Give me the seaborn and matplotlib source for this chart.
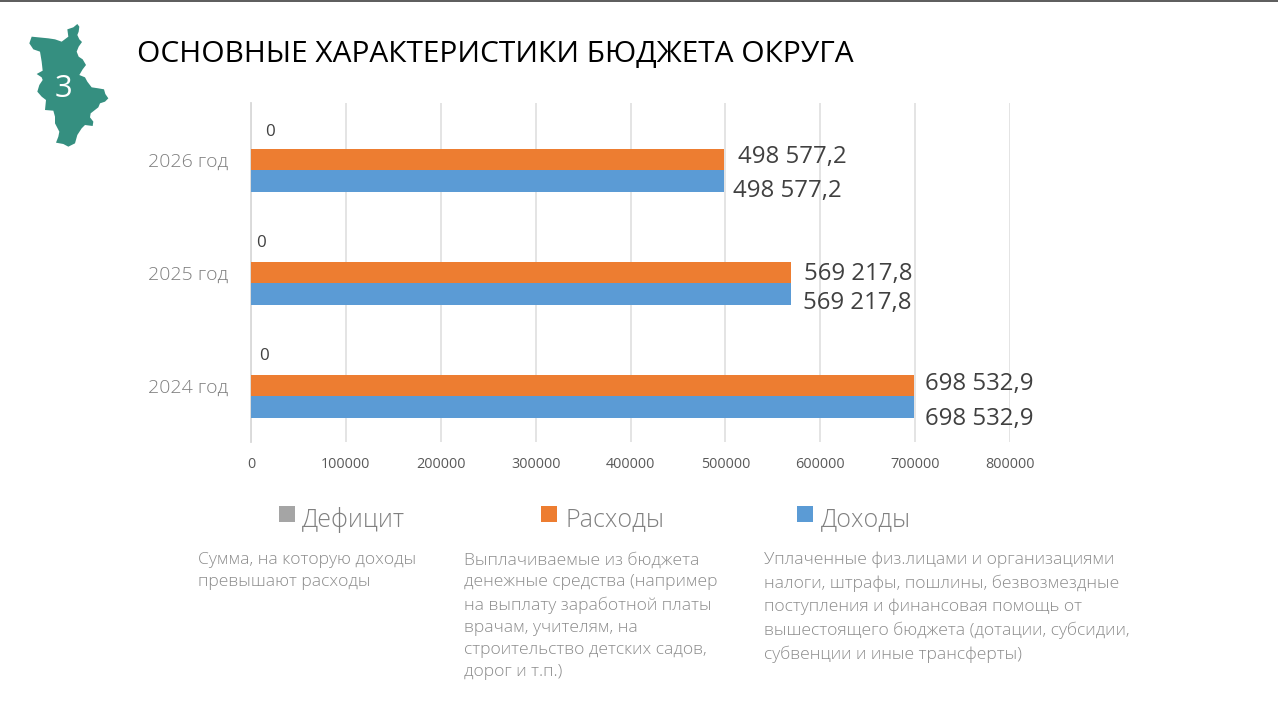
import pandas as pd
import seaborn as sns
import matplotlib.pyplot as plt
from matplotlib.patches import Polygon, Rectangle

W, H = 1278, 720

# ---- chart data ----
years = ['2026 год', '2025 год', '2024 год']
deficit = [0, 0, 0]
expenses = [498577.2, 569217.8, 698532.9]
income = [498577.2, 569217.8, 698532.9]
expense_labels = ['498 577,2', '569 217,8', '698 532,9']
income_labels = ['498 577,2', '569 217,8', '698 532,9']
series = ['Дефицит', 'Расходы', 'Доходы']
colors = ['#a5a5a5', '#ed7d31', '#5b9bd5']

title = 'ОСНОВНЫЕ ХАРАКТЕРИСТИКИ БЮДЖЕТА ОКРУГА'
notes = [
    'Сумма, на которую доходы\nпревышают расходы',
    'Выплачиваемые из бюджета\nденежные средства (например\nна выплату заработной платы\nврачам, учителям, на\nстроительство детских садов,\nдорог и т.п.)',
    'Уплаченные физ.лицами и организациями\nналоги, штрафы, пошлины, безвозмездные\nпоступления и финансовая помощь от\nвышестоящего бюджета (дотации, субсидии,\nсубвенции и иные трансферты)',
]

# outline of the region icon, traced at 3x of the slide
region = [(232, 72), (238, 80), (236, 95), (232, 105), (238, 118), (246, 126), (236, 140), (230, 155),
          (236, 170), (248, 178), (258, 195), (248, 208), (238, 225), (255, 232), (262, 245), (275, 262),
          (295, 265), (312, 268), (316, 282), (325, 295), (315, 305), (300, 310), (295, 322), (272, 340),
          (270, 352), (280, 365), (278, 378), (255, 375), (245, 385), (232, 405), (225, 430), (205, 440),
          (190, 432), (168, 428), (175, 410), (178, 395), (165, 370), (165, 350), (160, 332), (135, 330),
          (138, 300), (125, 290), (112, 275), (118, 255), (128, 240), (125, 232), (110, 222), (128, 212),
          (125, 185), (120, 155), (100, 148), (88, 130), (95, 110), (115, 112), (145, 115), (165, 118),
          (185, 125), (205, 110), (202, 88), (220, 82)]

df = pd.DataFrame({'year': years * 3,
                   'series': [s for s in series for _ in years],
                   'value': deficit + expenses + income})

sns.set_theme(style='white')
plt.rcParams['font.family'] = ['Open Sans', 'DejaVu Sans']

fig = plt.figure(figsize=(W / 100, H / 100), dpi=100, facecolor='white')


def px(x, y):
    return x / W, 1 - y / H


def put(x, y, s, size, color, **kw):
    kw.setdefault('va', 'center')
    fig.text(*px(x, y), s, fontsize=size * 0.72, color=color, **kw)


ax = fig.add_axes([251 / W, 1 - 442 / H, (1010 - 251) / W, 339 / H])
sns.barplot(data=df, y='year', x='value', hue='series', order=years, hue_order=series,
            palette=colors, width=0.584, saturation=1, legend=False, ax=ax, zorder=3,
            linewidth=0)
ax.set_xlim(0, 800000)
ax.set_ylim(2.5, -0.5)
ax.set_xticks(range(0, 800001, 100000))
ax.set_xticklabels([str(v) for v in range(0, 800001, 100000)], fontsize=10.4, color='#595959')
ax.tick_params(axis='x', length=0, pad=11)
ax.tick_params(axis='y', length=0, pad=16.5)
ax.set_yticks(range(3))
ax.set_yticklabels(years, fontsize=14, color='#7f7f7f', fontweight='light')
ax.set_xlabel('')
ax.set_ylabel('')
ax.grid(axis='x', color='#e2e2e2', lw=1.3, zorder=0)
ax.set_axisbelow(True)
for name in ['top', 'right', 'bottom']:
    ax.spines[name].set_visible(False)
ax.spines['left'].set_color('#d9d9d9')
ax.spines['left'].set_linewidth(1.3)

# data labels, placed by hand like on the slide
label_x = [[738, 733], [804, 803], [925, 925]]
label_y = [[157, 191], [274, 303], [384, 419]]
zero_x = [265, 256, 259]
zero_y = [132, 243, 356]
for i in range(3):
    put(label_x[i][0], label_y[i][0], expense_labels[i], 24, '#404040')
    put(label_x[i][1], label_y[i][1], income_labels[i], 24, '#404040')
    put(zero_x[i], zero_y[i], str(deficit[i]), 17, '#404040')

# header
fig.add_artist(plt.Line2D([0, 1], [1 - 0.5 / H] * 2, color='#404040', lw=1.2))
fig.add_artist(Polygon([px(x / 3, y / 3) for x, y in region], closed=True, facecolor='#358f80',
                       edgecolor='none', transform=fig.transFigure))
put(64, 89, '3', 31, 'white', ha='center')
put(137, 54, title, 29.9, 'black')

# legend and notes
legend_sq = [279, 541, 797]
legend_txt = [302, 565, 821]
note_x = [198, 464, 764]
for i in range(3):
    fig.add_artist(Rectangle(px(legend_sq[i], 522), 16 / W, 16 / H, facecolor=colors[i],
                             edgecolor='none', transform=fig.transFigure))
    put(legend_txt[i], 520, series[i], 25, '#808080', fontweight='light')
    fig.text(*px(note_x[i], 552), notes[i], fontsize=12.6, color='#8c8c8c', va='top',
             linespacing=1.49, fontweight='light')

fig.savefig('out.png', dpi=100)
